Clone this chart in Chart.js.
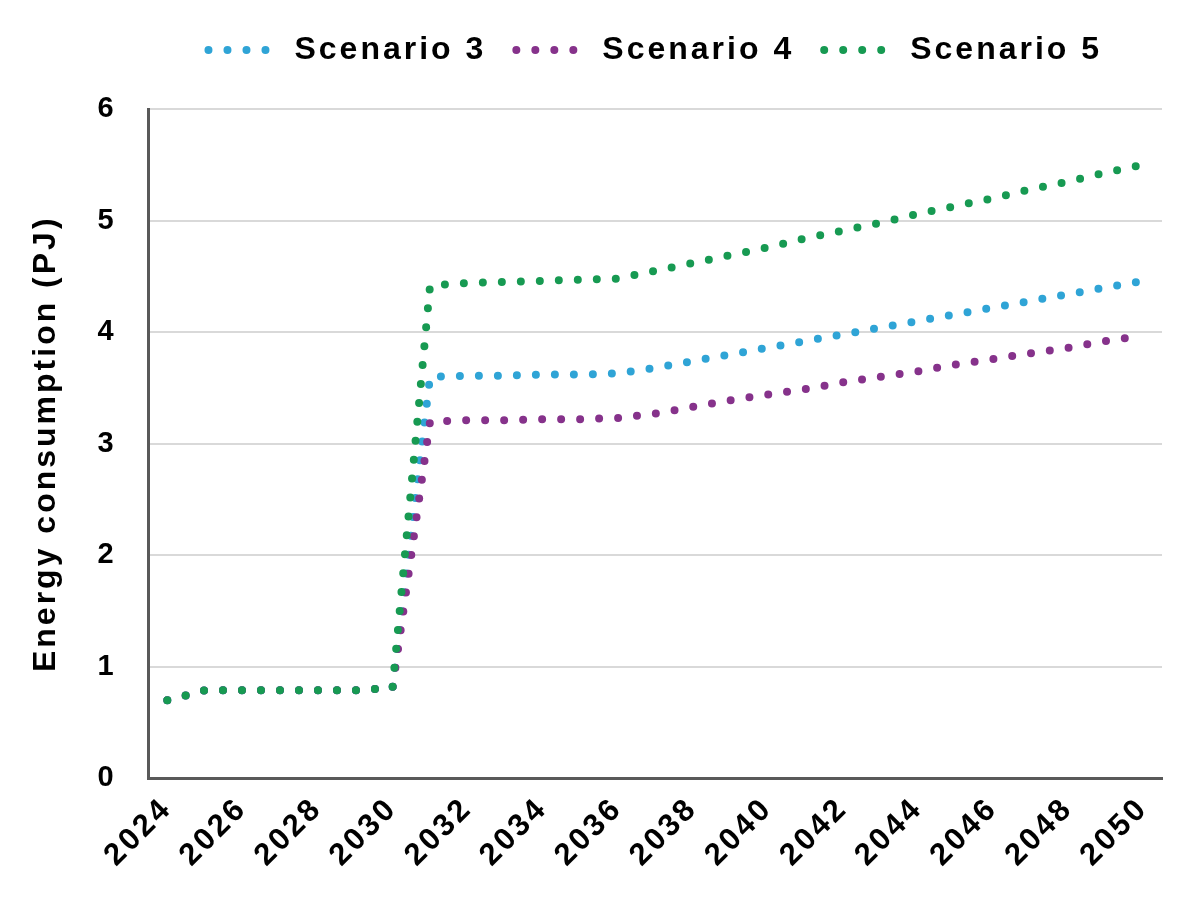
<!DOCTYPE html>
<html>
<head>
<meta charset="utf-8">
<title>Energy consumption by scenario</title>
<script src="https://cdn.jsdelivr.net/npm/chart.js@4"></script>
<style>
  html, body { margin: 0; padding: 0; background: #ffffff; }
  #wrap { width: 1200px; height: 924px; position: relative; }
</style>
</head>
<body>
<div id="wrap"><canvas id="energyChart"></canvas></div>
<script>
// years on the x axis (labels shown every second year)
const years = [2024, 2025, 2026, 2027, 2028, 2029, 2030, 2031, 2032, 2033, 2034, 2035, 2036, 2037,
               2038, 2039, 2040, 2041, 2042, 2043, 2044, 2045, 2046, 2047, 2048, 2049, 2050];

// energy consumption in PJ
const scenario3 = [0.70, 0.79, 0.79, 0.79, 0.79, 0.79, 0.81, 3.60, 3.61, 3.61, 3.62, 3.62, 3.63, 3.68,
                   3.74, 3.80, 3.86, 3.92, 3.98, 4.04, 4.10, 4.16, 4.22, 4.28, 4.34, 4.40, 4.46];
const scenario4 = [0.70, 0.79, 0.79, 0.79, 0.79, 0.79, 0.81, 3.20, 3.21, 3.21, 3.22, 3.22, 3.23, 3.27,
                   3.33, 3.39, 3.44, 3.49, 3.55, 3.60, 3.65, 3.71, 3.76, 3.81, 3.86, 3.92, 3.97];
const scenario5 = [0.70, 0.79, 0.79, 0.79, 0.79, 0.79, 0.81, 4.42, 4.44, 4.45, 4.46, 4.47, 4.48, 4.55,
                   4.62, 4.69, 4.76, 4.84, 4.91, 4.98, 5.06, 5.13, 5.20, 5.28, 5.35, 5.43, 5.50];

const yMin = 0;
const yMax = 6;
const yStep = 1;

document.addEventListener('DOMContentLoaded', function() {
    const fontFamily = '"Liberation Sans", Arial, sans-serif';
    const dotDash = [0, 19];
    const dotWidth = 8;

    // the figure's text is set a bit loose, canvas needs letterSpacing re-applied after resets
    const looseText = {
        id: 'looseText',
        beforeUpdate(chart) { chart.ctx.letterSpacing = '3px'; },
        beforeDraw(chart) { chart.ctx.letterSpacing = '3px'; }
    };

    // extra room between the legend and the plot
    const legendGap = {
        id: 'legendGap',
        beforeInit(chart) {
            const fit = chart.legend.fit;
            chart.legend.fit = function() {
                fit.call(this);
                this.height += 33;
            };
        }
    };

    function dotted(label, data, color, order) {
        return {
            label: label,
            data: data,
            borderColor: color,
            backgroundColor: color,
            borderWidth: dotWidth,
            borderDash: dotDash,
            borderCapStyle: 'round',
            pointRadius: 0,
            pointHoverRadius: 0,
            pointStyle: 'line',
            tension: 0,
            fill: false,
            order: order
        };
    }

    const ctx = document.getElementById('energyChart').getContext('2d');
    const energyChart = new Chart(ctx, {
        type: 'line',
        data: {
            labels: years.map(String),
            datasets: [
                dotted('Scenario 3', scenario3, '#2fa4d6', 3),
                dotted('Scenario 4', scenario4, '#86328b', 2),
                dotted('Scenario 5', scenario5, '#179a52', 1)
            ]
        },
        options: {
            responsive: true,
            maintainAspectRatio: false,
            animation: false,
            layout: {
                padding: { top: 4, left: 27, right: 38, bottom: 38 }
            },
            plugins: {
                tooltip: { enabled: false },
                legend: {
                    position: 'top',
                    fullSize: false,
                    labels: {
                        usePointStyle: true,
                        pointStyleWidth: 70,
                        boxHeight: 8,
                        padding: 30,
                        color: '#000000',
                        font: { family: fontFamily, size: 32, weight: 'bold' },
                        sort: (a, b) => a.datasetIndex - b.datasetIndex,
                        generateLabels: function(chart) {
                            const items = Chart.defaults.plugins.legend.labels.generateLabels(chart);
                            items.forEach(item => {
                                const ds = chart.data.datasets[item.datasetIndex];
                                item.strokeStyle = ds.borderColor;
                                item.lineWidth = dotWidth;
                                item.lineDash = dotDash;
                                item.lineCap = 'round';
                            });
                            return items;
                        }
                    }
                }
            },
            scales: {
                x: {
                    offset: true,
                    grid: { display: false, drawTicks: false },
                    border: { display: true, color: '#595959', width: 3 },
                    ticks: {
                        autoSkip: false,
                        maxRotation: 45,
                        minRotation: 45,
                        padding: 12,
                        color: '#000000',
                        font: { family: fontFamily, size: 31, weight: 'bold' },
                        callback: function(value, index) {
                            return index % 2 === 0 ? this.getLabelForValue(value) : '';
                        }
                    }
                },
                y: {
                    min: yMin,
                    max: yMax,
                    grid: { color: '#d9d9d9', lineWidth: 2, drawTicks: false },
                    border: { display: true, color: '#595959', width: 3 },
                    ticks: {
                        stepSize: yStep,
                        padding: 32,
                        color: '#000000',
                        font: { family: fontFamily, size: 29, weight: 'bold' }
                    },
                    title: {
                        display: true,
                        text: 'Energy consumption (PJ)',
                        color: '#000000',
                        padding: { top: 0, bottom: 0 },
                        font: { family: fontFamily, size: 32, weight: 'bold' }
                    }
                }
            }
        },
        plugins: [looseText, legendGap]
    });
});
</script>
</body>
</html>
